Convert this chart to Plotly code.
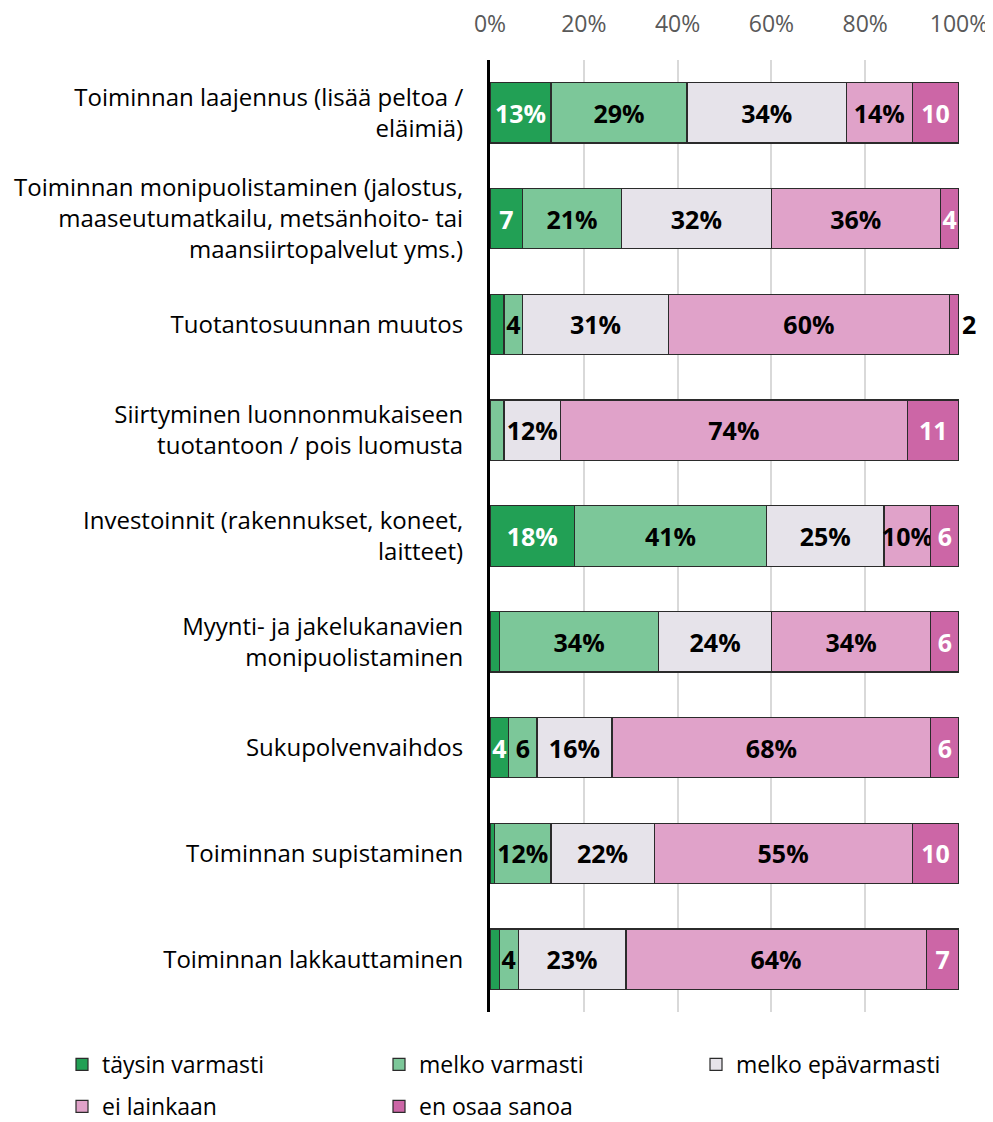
import plotly.graph_objects as go

categories = [
    "Toiminnan laajennus (lisää peltoa /<br>eläimiä)",
    "Toiminnan monipuolistaminen (jalostus,<br>maaseutumatkailu, metsänhoito- tai<br>maansiirtopalvelut yms.)",
    "Tuotantosuunnan muutos",
    "Siirtyminen luonnonmukaiseen<br>tuotantoon / pois luomusta",
    "Investoinnit (rakennukset, koneet,<br>laitteet)",
    "Myynti- ja jakelukanavien<br>monipuolistaminen",
    "Sukupolvenvaihdos",
    "Toiminnan supistaminen",
    "Toiminnan lakkauttaminen",
]

series_names = ["täysin varmasti", "melko varmasti", "melko epävarmasti", "ei lainkaan", "en osaa sanoa"]

taysin_varmasti = [13, 7, 3, 0, 18, 2, 4, 1, 2]
melko_varmasti = [29, 21, 4, 3, 41, 34, 6, 12, 4]
melko_epavarmasti = [34, 32, 31, 12, 25, 24, 16, 22, 23]
ei_lainkaan = [14, 36, 60, 74, 10, 34, 68, 55, 64]
en_osaa_sanoa = [10, 4, 2, 11, 6, 6, 6, 10, 7]

tick_vals = [0, 20, 40, 60, 80, 100]
tick_text = ["0%", "20%", "40%", "60%", "80%", "100%"]

values = [taysin_varmasti, melko_varmasti, melko_epavarmasti, ei_lainkaan, en_osaa_sanoa]
colors = ["#22a055", "#7cc799", "#e6e3ea", "#e0a2c9", "#cc66a6"]
text_colors = ["white", "black", "black", "black", "white"]
use_percent = [True, True, True, True, False]
legend_ids = ["legend", "legend", "legend", "legend2", "legend2"]

FONT = "Open Sans"

# page body has an 8px default margin; work in figure coordinates
OFF = 8
W, H = 993 - OFF, 1122 - OFF
plot_left = 490 - OFF
plot_right = 959 - OFF
plot_top = 60 - OFF
plot_bottom = 1012 - OFF
plot_w = plot_right - plot_left
plot_h = plot_bottom - plot_top

fig = go.Figure()
last = len(values) - 1
for i, (name, vals) in enumerate(zip(series_names, values)):
    texts, positions, tcolors = [], [], []
    for v in vals:
        if v >= 4:
            texts.append(f"{v}%" if (v >= 10 and use_percent[i]) else f"{v}")
            positions.append("inside")
            tcolors.append(text_colors[i])
        elif i == last and v > 0:
            texts.append(f"{v}")
            positions.append("outside")
            tcolors.append("black")
        else:
            texts.append("")
            positions.append("none")
            tcolors.append(text_colors[i])
    fig.add_trace(go.Bar(
        name=name,
        y=categories,
        x=vals,
        orientation="h",
        legend=legend_ids[i],
        marker=dict(color=colors[i], line=dict(color="#2b2b2b", width=1.2)),
        text=texts,
        textposition=positions,
        textangle=0,
        insidetextanchor="middle",
        textfont=dict(family=FONT, size=25, color=tcolors, weight="bold"),
        cliponaxis=False,
        hoverinfo="x+name",
    ))

legend_common = dict(
    orientation="h",
    xref="paper",
    yref="paper",
    x=(62 - OFF - plot_left) / plot_w,
    xanchor="left",
    yanchor="top",
    entrywidth=272,
    entrywidthmode="pixels",
    font=dict(family=FONT, size=23, color="black"),
    traceorder="normal",
    itemwidth=30,
    bgcolor="rgba(0,0,0,0)",
)

fig.update_layout(
    barmode="stack",
    bargap=0.43,
    width=W,
    height=H,
    margin=dict(l=plot_left, r=W - plot_right, t=plot_top, b=H - plot_bottom, autoexpand=False),
    plot_bgcolor="white",
    paper_bgcolor="white",
    font=dict(family=FONT, size=24, color="black"),
    uniformtext=dict(minsize=25, mode="show"),
    legend=dict(legend_common, y=-(1043 - OFF - plot_bottom) / plot_h),
    legend2=dict(legend_common, y=-(1085 - OFF - plot_bottom) / plot_h),
    xaxis=dict(
        side="top",
        range=[0, 100],
        tickvals=tick_vals,
        ticktext=tick_text,
        tickfont=dict(family=FONT, size=23, color="#595959"),
        ticks="outside",
        ticklen=18,
        tickcolor="rgba(0,0,0,0)",
        showgrid=True,
        gridcolor="#d9d9d9",
        gridwidth=1.5,
        zeroline=False,
        showline=False,
        fixedrange=True,
    ),
    yaxis=dict(
        autorange="reversed",
        showline=True,
        linecolor="black",
        linewidth=3,
        ticks="",
        ticklabelstandoff=19,
        tickfont=dict(family=FONT, size=24, color="black"),
        fixedrange=True,
    ),
)

fig.write_html("out.html")
